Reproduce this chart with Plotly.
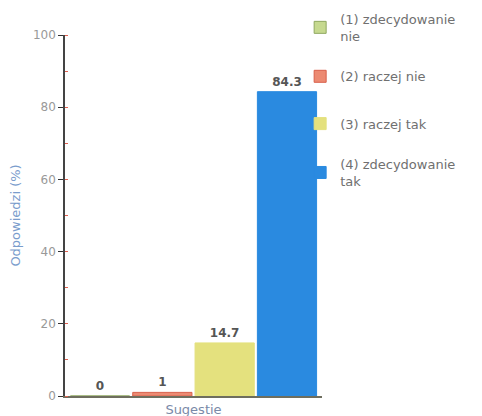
import plotly.graph_objects as go

categories = ["Sugestie"]
series_names = ["(1) zdecydowanie<br>nie", "(2) raczej nie", "(3) raczej tak", "(4) zdecydowanie<br>tak"]
values = [0, 1, 14.7, 84.3]
labels = ["0", "1", "14.7", "84.3"]
colors = ["#c6d98f", "#ec8a72", "#e4e17e", "#2a8ae0"]
line_colors = ["#8fa860", "#d9604a", "#e4e17e", "#2a8ae0"]
tick_vals = [0, 20, 40, 60, 80, 100]

fig = go.Figure()
legend_ids = ["legend", "legend2", "legend3", "legend4"]
legend_y = [1.086, 0.927, 0.796, 0.684]
for i in range(4):
    fig.add_trace(go.Bar(
        x=categories, y=[values[i]], name=series_names[i],
        marker=dict(color=colors[i], line=dict(color=line_colors[i], width=1)),
        text=["<b>" + labels[i] + "</b>"], textposition="outside", cliponaxis=False,
        textfont=dict(size=12, color="#555555", family="DejaVu Sans"),
        legend=legend_ids[i],
    ))

leg_common = dict(x=0.915, xanchor="left", yanchor="top", bgcolor="rgba(0,0,0,0)",
                  font=dict(size=13, color="#707070", family="DejaVu Sans"),
                  itemwidth=30)
layout_legends = {}
for i, lid in enumerate(legend_ids):
    layout_legends[lid] = dict(leg_common, y=legend_y[i])

# page body has an 8px margin; margins compensate so the plot sits where the reference has it
fig.update_layout(
    width=482, height=416,
    margin=dict(l=57, r=168, t=27, b=28, autoexpand=False),
    paper_bgcolor="white", plot_bgcolor="white",
    barmode="group", bargap=0.03, bargroupgap=0.05,
    showlegend=True,
    font=dict(family="DejaVu Sans", size=11, color="#888888"),
    **layout_legends,
)
fig.update_xaxes(showticklabels=False, showline=True, linecolor="#6e6e5e", linewidth=1.5,
                 ticks="", showgrid=False, automargin=False,
                 title=dict(text="Sugestie", standoff=8, font=dict(size=13, color="#7a8aa8")))
fig.update_yaxes(range=[0, 100], tickvals=tick_vals, showline=True, linecolor="#444444",
                 linewidth=1.5, ticks="outside", ticklen=5, tickcolor="#333333",
                 showgrid=False, zeroline=False, automargin=False,
                 tickfont=dict(size=12, color="#999999"),
                 minor=dict(dtick=10, tick0=10, ticks="inside", ticklen=3, tickcolor="#e06050", showgrid=False),
                 title=dict(text="Odpowiedzi (%)", standoff=20, font=dict(size=13, color="#7a9ccc")))

fig.write_html("out.html")
